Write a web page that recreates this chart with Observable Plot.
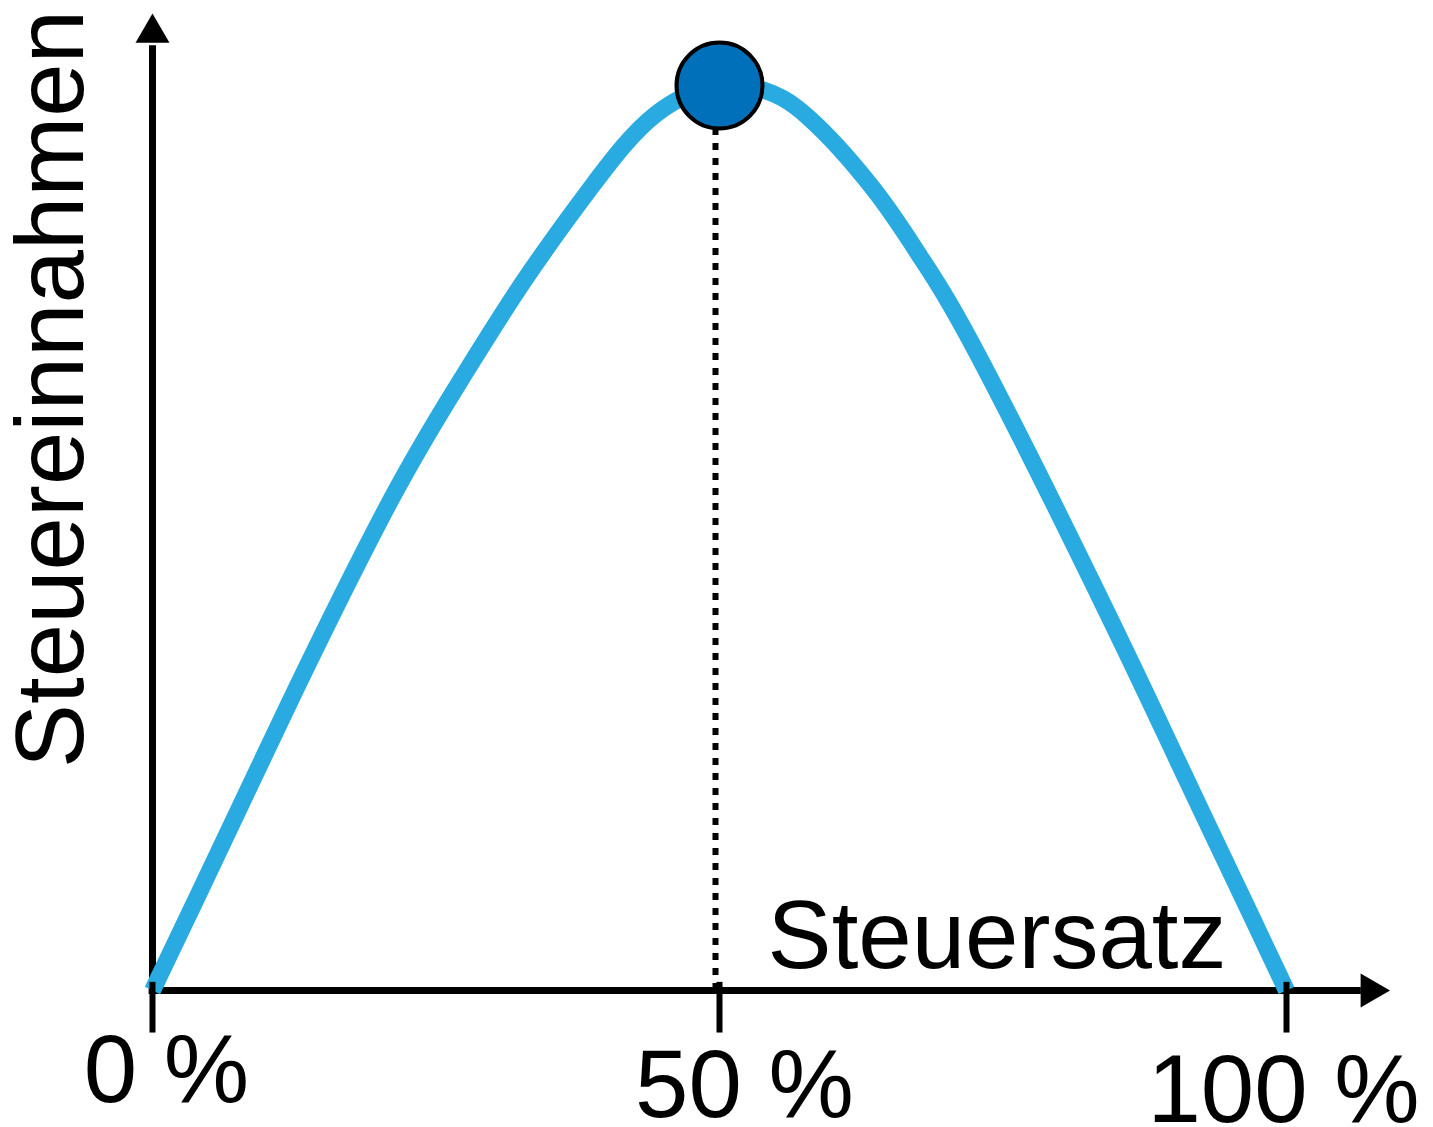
<!DOCTYPE html>
<html>
<head>
<meta charset="utf-8">
<script src="https://cdn.jsdelivr.net/npm/d3@7"></script>
<script src="https://cdn.jsdelivr.net/npm/@observablehq/plot@0.6"></script>
<style>
  html, body { margin: 0; padding: 0; background: #ffffff; }
  #chart { width: 1433px; height: 1127px; }
</style>
</head>
<body>
<div id="chart"></div>
<script>
// ---- Data ----
const taxRate = [0, 3.88, 11.99, 20.99, 27.16, 32.72, 38.80, 44.36, 50, 53.88, 57.76, 63.58, 67.81, 73.28, 84.22, 91.01, 97.00, 100];
const revenue = [0, 10.17, 31.60, 54.14, 67.40, 78.34, 88.95, 96.80, 100, 99.50, 96.57, 88.56, 80.88, 69.06, 41.66, 23.76, 7.96, 0];
const peakRate = [50];
const peakRevenue = [100];
const tickValues = [0, 50, 100];
const tickLabels = ["0 %", "50 %", "100 %"];
const xTitle = "Steuersatz";
const yTitle = "Steuereinnahmen";

// ---- Styles ----
const FONT = "'Liberation Sans', Arial, Helvetica, sans-serif";
const FS = 96;
const curveColor = "#29abe2";
const dotColor = "#0070ba";
const labelOffsets = [{dx: 14, dy: 111}, {dx: 25, dy: 126}, {dx: -3, dy: 131}];

const curve = taxRate.map((x, i) => ({x, y: revenue[i]}));
const peak = peakRate.map((x, i) => ({x, y: peakRevenue[i]}));

const marks = [
  // y axis line + arrow
  Plot.ruleX([0], {y1: 0, y2: 104.4, stroke: "black", strokeWidth: 7}),
  Plot.dot([{x: 0, y: 105.8}], {x: "x", y: "y", symbol: "triangle", r: 12.6, fill: "black", stroke: null}),
  // x axis line + arrow
  Plot.ruleY([0], {x1: -0.3, x2: 106.6, stroke: "black", strokeWidth: 7}),
  Plot.dot([{x: 107.4, y: 0}], {x: "x", y: "y", symbol: "triangle", r: 12.6, rotate: 90, fill: "black", stroke: null}),
  // Laffer curve
  Plot.line(curve, {x: "x", y: "y", curve: "natural", stroke: curveColor, strokeWidth: 17, strokeLinecap: "butt", strokeLinejoin: "round"}),
  // ticks
  Plot.ruleX(tickValues, {y1: -4.7, y2: 0.9, stroke: "black", strokeWidth: 6}),
  // tick labels
  ...tickValues.map((v, i) => Plot.text([v], {
    x: d => d, y: 0, text: () => tickLabels[i],
    dx: labelOffsets[i].dx, dy: labelOffsets[i].dy,
    lineAnchor: "bottom", textAnchor: "middle",
    fontSize: FS, fill: "black"
  })),
  // dotted drop line
  Plot.ruleX(peak, {x: "x", y1: 0, y2: "y", dx: -4, stroke: "black", strokeWidth: 6, strokeDasharray: "7,8"}),
  // peak dot
  Plot.dot(peak, {x: "x", y: "y", r: 43, fill: dotColor, stroke: "black", strokeWidth: 4}),
  // axis titles
  Plot.text([xTitle], {frameAnchor: "bottom-right", text: d => d, textAnchor: "end", lineAnchor: "bottom", dx: -60, dy: -23, fontSize: FS, fill: "black"}),
  Plot.text([yTitle], {frameAnchor: "left", text: d => d, rotate: -90, textAnchor: "middle", lineAnchor: "bottom", dx: -70, dy: -149, fontSize: FS, fill: "black"})
];

const chart = Plot.plot({
  width: 1433,
  height: 1127,
  marginLeft: 152,
  marginRight: 147,
  marginTop: 85,
  marginBottom: 137,
  x: {domain: [0, 100], axis: null},
  y: {domain: [0, 100], axis: null},
  style: {fontFamily: FONT, background: "white", overflow: "visible"},
  marks
});
document.getElementById("chart").appendChild(chart);
</script>
</body>
</html>
